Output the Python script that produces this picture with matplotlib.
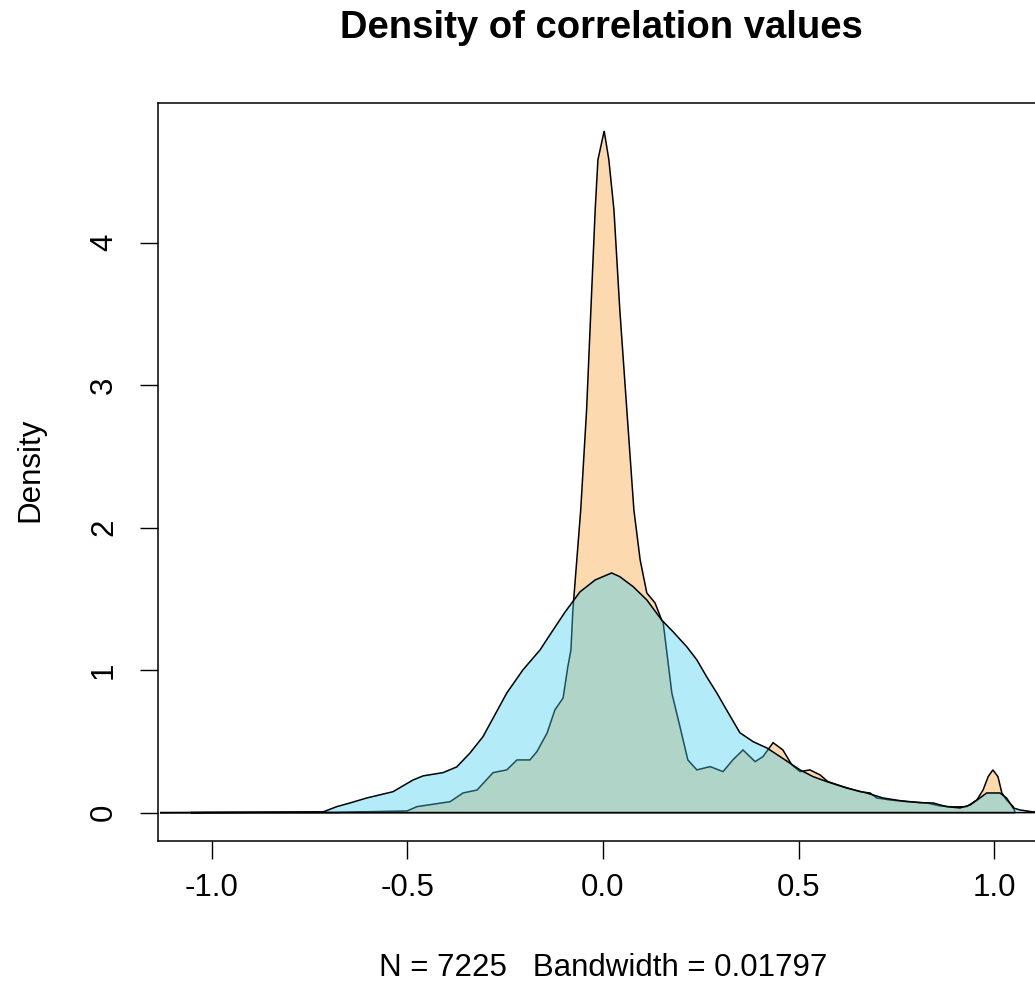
import numpy as np
import matplotlib
matplotlib.use('Agg')
import matplotlib.pyplot as plt

plt.rcParams['font.family'] = ['Liberation Sans', 'DejaVu Sans']

# density with small bandwidth (bw = 0.01797)
x_narrow = [-1.054, -1.018, -0.680, -0.501, -0.476, -0.391, -0.358, -0.322, -0.281, -0.246,
            -0.220, -0.187, -0.169, -0.143, -0.123, -0.102, -0.090, -0.082, -0.077, -0.057,
            -0.042, -0.031, -0.020, -0.013, 0.003, 0.015, 0.028, 0.043, 0.061, 0.079,
            0.095, 0.112, 0.133, 0.150, 0.154, 0.176, 0.197, 0.217, 0.240, 0.274,
            0.307, 0.332, 0.358, 0.389, 0.409, 0.435, 0.460, 0.483, 0.504, 0.529,
            0.555, 0.575, 0.614, 0.657, 0.683, 0.700, 0.734, 0.777, 0.828, 0.862,
            0.895, 0.930, 0.956, 0.972, 0.985, 0.997, 1.010, 1.020, 1.032, 1.049, 1.054]
y_narrow = [0.0, 0.001, 0.002, 0.012, 0.042, 0.077, 0.138, 0.159, 0.281, 0.300,
            0.370, 0.370, 0.428, 0.559, 0.721, 0.805, 1.023, 1.142, 1.423, 2.124,
            2.824, 3.528, 4.230, 4.581, 4.784, 4.581, 4.230, 3.528, 2.824, 2.124,
            1.774, 1.542, 1.472, 1.352, 1.331, 0.840, 0.601, 0.370, 0.300, 0.323,
            0.288, 0.370, 0.440, 0.358, 0.393, 0.491, 0.440, 0.335, 0.288, 0.300,
            0.265, 0.218, 0.182, 0.147, 0.138, 0.103, 0.089, 0.077, 0.068, 0.047,
            0.040, 0.042, 0.089, 0.159, 0.253, 0.300, 0.253, 0.138, 0.089, 0.042, 0.0]

# density with wider bandwidth
x_wide = [-1.133, -1.018, -0.716, -0.681, -0.647, -0.604, -0.537, -0.486, -0.460, -0.409,
          -0.374, -0.340, -0.307, -0.272, -0.246, -0.205, -0.161, -0.136, -0.097, -0.059,
          -0.020, 0.022, 0.043, 0.077, 0.112, 0.150, 0.179, 0.214, 0.240, 0.265,
          0.291, 0.316, 0.350, 0.384, 0.419, 0.453, 0.504, 0.537, 0.572, 0.623,
          0.674, 0.716, 0.760, 0.811, 0.844, 0.879, 0.913, 0.939, 0.964, 0.981,
          1.015, 1.032, 1.049, 1.066, 1.100, 1.133]
y_wide = [0.0, 0.001, 0.005, 0.042, 0.068, 0.103, 0.147, 0.229, 0.258, 0.281,
          0.321, 0.419, 0.533, 0.709, 0.840, 1.001, 1.142, 1.247, 1.408, 1.549,
          1.633, 1.682, 1.656, 1.586, 1.493, 1.352, 1.270, 1.165, 1.072, 0.954,
          0.840, 0.721, 0.561, 0.498, 0.454, 0.393, 0.300, 0.253, 0.218, 0.173,
          0.138, 0.103, 0.084, 0.070, 0.068, 0.042, 0.033, 0.054, 0.103, 0.138,
          0.138, 0.103, 0.033, 0.019, 0.005, 0.0]

x_ticks = [-1.0, -0.5, 0.0, 0.5, 1.0]
x_ticklabels = ['-1.0', '-0.5', '0.0', '0.5', '1.0']
y_ticks = [0, 1, 2, 3, 4]

fig = plt.figure(figsize=(10.35, 9.91), dpi=100)
# plot box runs past the right edge of the picture, as in the reference
ax = fig.add_axes([158 / 1035, 1 - 841 / 991, 890 / 1035, 738 / 991])

ax.fill(x_narrow, y_narrow, facecolor='#fdd9b0', edgecolor='black', linewidth=1.1, zorder=2)
ax.fill(x_wide, y_wide, facecolor=(65 / 255, 205 / 255, 240 / 255, 0.4),
        edgecolor='black', linewidth=1.1, zorder=3)

ax.set_xlim(-1.138, 1.138)
ax.set_ylim(-0.199, 4.98)
ax.set_xticks(x_ticks)
ax.set_xticklabels(x_ticklabels)
ax.set_yticks(y_ticks)
ax.set_yticklabels([str(v) for v in y_ticks], rotation=90, va='center')
ax.tick_params(axis='both', length=13, width=1.0, labelsize=22.5, color='black')
ax.tick_params(axis='x', pad=10)
ax.tick_params(axis='y', pad=15)
for s in ax.spines.values():
    s.set_linewidth(1.1)

fig.text(601 / 1035, 1 - 28 / 991, 'Density of correlation values', ha='center', va='center',
         fontsize=27.5, fontweight='bold')
fig.text(603 / 1035, 1 - 968 / 991, 'N = 7225   Bandwidth = 0.01797', ha='center', va='center',
         fontsize=22.5)
fig.text(30 / 1035, 1 - 470 / 991, 'Density', ha='center', va='center', rotation=90,
         fontsize=22.5)

fig.savefig('out.png', dpi=100)
